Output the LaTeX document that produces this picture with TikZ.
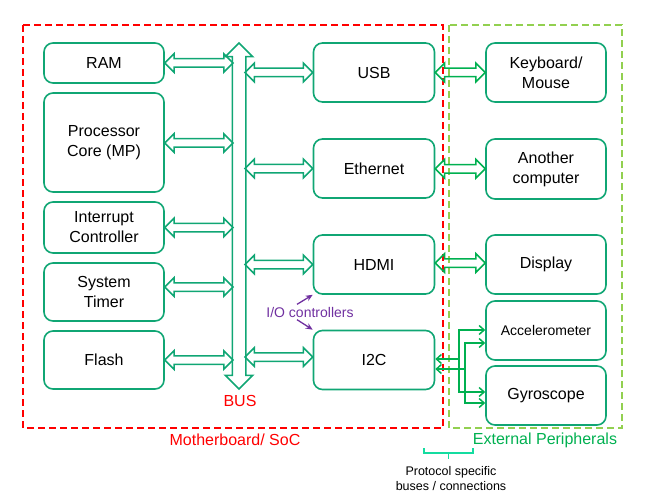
\documentclass[tikz,border=0pt]{standalone}
\usepackage{fontspec}
\setmainfont{Liberation Sans}
\usetikzlibrary{arrows.meta,positioning,calc,shapes.arrows}
\definecolor{box-green}{RGB}{16,166,116}
\definecolor{link-green}{RGB}{0,176,80}
\definecolor{frame-green}{RGB}{146,208,80}
\definecolor{io-purple}{RGB}{112,48,160}
\definecolor{brace-teal}{RGB}{20,220,160}

% hollow double arrow between two points
\newcommand\conn[3][box-green]{%
  \path let \p1=(#2), \p2=(#3), \n1={veclen(\x2-\x1,\y2-\y1)} in
    node[dbl=#1, minimum height=\n1] at ($(#2)!.5!(#3)$) {};}

\begin{document}
\begin{tikzpicture}[x=1pt, y=-1pt, font=\fontsize{16}{20}\selectfont,
    b/.style={draw=box-green, line width=1.6pt, rounded corners=9pt, align=center,
      inner sep=0pt, minimum width=120pt},
    dbl/.style={double arrow, draw=#1, line width=1.5pt, inner xsep=0pt, inner ysep=3.5pt,
      minimum width=0pt, double arrow head extend=5pt, double arrow tip angle=90},
    wire/.style={link-green, line width=1.5pt, {Straight Barb[length=5pt,width=9pt]}-{Straight Barb[length=5pt,width=9pt]}},
    io/.style={io-purple, line width=1.3pt, -{Stealth[length=7pt,width=6pt]}},
    frame/.style={line width=1.8pt, dash pattern=on 7pt off 4pt}]
  \useasboundingbox (0,0) rectangle (645,500);

  % frames
  \draw[frame, red] (23,25) rectangle (443,428);
  \draw[frame, frame-green] (449,25) rectangle (622,428);
  \node[text=red] (mblbl) at (235,440) {Motherboard/ SoC};
  \node[text=link-green] (extlbl) at (545,440) {External Peripherals};

  % motherboard side
  \node[b, minimum height=40pt] (ram) at (104,63) {RAM};
  \node[b, minimum height=99pt] (cpu) at (104,142.5) {Processor\\ Core (MP)};
  \node[b, minimum height=51pt] (irq) at (104,227.5) {Interrupt\\ Controller};
  \node[b, minimum height=58pt] (tmr) at (104,292) {System\\ Timer};
  \node[b, minimum height=58pt] (fls) at (104,360) {Flash};

  \node[b, minimum width=121pt, minimum height=59pt] (usb) at (374,72.5) {USB};
  \node[b, minimum width=121pt, minimum height=59pt] (eth) at (374,168.5) {Ethernet};
  \node[b, minimum width=121pt, minimum height=59pt] (hdmi) at (374,264.5) {HDMI};
  \node[b, minimum width=121pt, minimum height=59pt] (i2c) at (374,360) {I2C};

  % peripherals
  \node[b, minimum height=59pt] (kbd) at (546,72.5) {Keyboard/\\ Mouse};
  \node[b, minimum height=60pt] (comp) at (546,169) {Another\\ computer};
  \node[b, minimum height=59pt] (disp) at (546,264.5) {Display};
  \node[b, minimum height=59pt, font=\fontsize{14}{16}\selectfont] (acc) at (546,330.5) {Accelerometer};
  \node[b, minimum height=59pt] (gyr) at (546,395.5) {Gyroscope};

  % bus
  \node[dbl=box-green, rotate=90, minimum height=346pt, inner ysep=6pt,
    double arrow head extend=7pt] (bus) at (239,216) {};
  \node[text=red] (buslbl) at (240,401) {BUS};
  \coordinate (busL) at (233,0);
  \coordinate (busR) at (245,0);

  \coordinate (cpuE) at ([yshift=-0.5pt]cpu.east);
  \coordinate (tmrE) at ([yshift=5pt]tmr.east);
  \coordinate (i2cW) at ([yshift=3pt]i2c.west);
  \conn{ram.east}{ram.east -| busL}
  \conn{cpuE}{cpuE -| busL}
  \conn{irq.east}{irq.east -| busL}
  \conn{tmrE}{tmrE -| busL}
  \conn{fls.east}{fls.east -| busL}
  \conn{usb.west -| busR}{usb.west}
  \conn{eth.west -| busR}{eth.west}
  \conn{hdmi.west -| busR}{hdmi.west}
  \conn{i2cW -| busR}{i2cW}

  \conn[link-green]{usb.east}{kbd.west}
  \conn[link-green]{eth.east}{comp.west}
  \conn[link-green]{[yshift=1.5pt]hdmi.east}{[yshift=1.5pt]disp.west}

  % I2C wires
  \coordinate (w1) at ([yshift=1pt]i2c.east);
  \coordinate (w2) at ([yshift=-9pt]i2c.east);
  \coordinate (v1) at (459,0);
  \coordinate (v2) at (465,0);
  \draw[wire] (w1) -- (w1 -| v1) |- ([yshift=0.5pt]acc.west);
  \draw[wire, -{Straight Barb[length=5pt,width=9pt]}] (w1 -| v1) |- ([yshift=3.5pt]gyr.west);
  \draw[wire] (w2) -- (w2 -| v2) |- ([yshift=-12.5pt]acc.west);
  \draw[wire, -{Straight Barb[length=5pt,width=9pt]}] (w2 -| v2) |- ([yshift=-7.5pt]gyr.west);

  % I/O controllers
  \node[text=io-purple, font=\fontsize{14}{16}\selectfont] (iolbl) at (310,312) {I/O controllers};
  \draw[io] ([xshift=-13pt,yshift=-1pt]iolbl.north) -- (hdmi.south west);
  \draw[io] ([xshift=-13pt,yshift=1pt]iolbl.south) -- (i2c.north west);

  % protocol buses
  \coordinate (brL) at (424,448);
  \coordinate (brR) at (473,448);
  \draw[brace-teal, line width=1.5pt] (brL) -- ++(0,5) -| (brR);
  \draw[brace-teal, line width=1.5pt] ($(brL)!.5!(brR)+(0,5)$) -- ++(0,6);
  \node[font=\fontsize{12.5}{15}\selectfont, align=center] (protolbl) at (451,479)
    {Protocol specific\\ buses / connections};
\end{tikzpicture}
\end{document}
